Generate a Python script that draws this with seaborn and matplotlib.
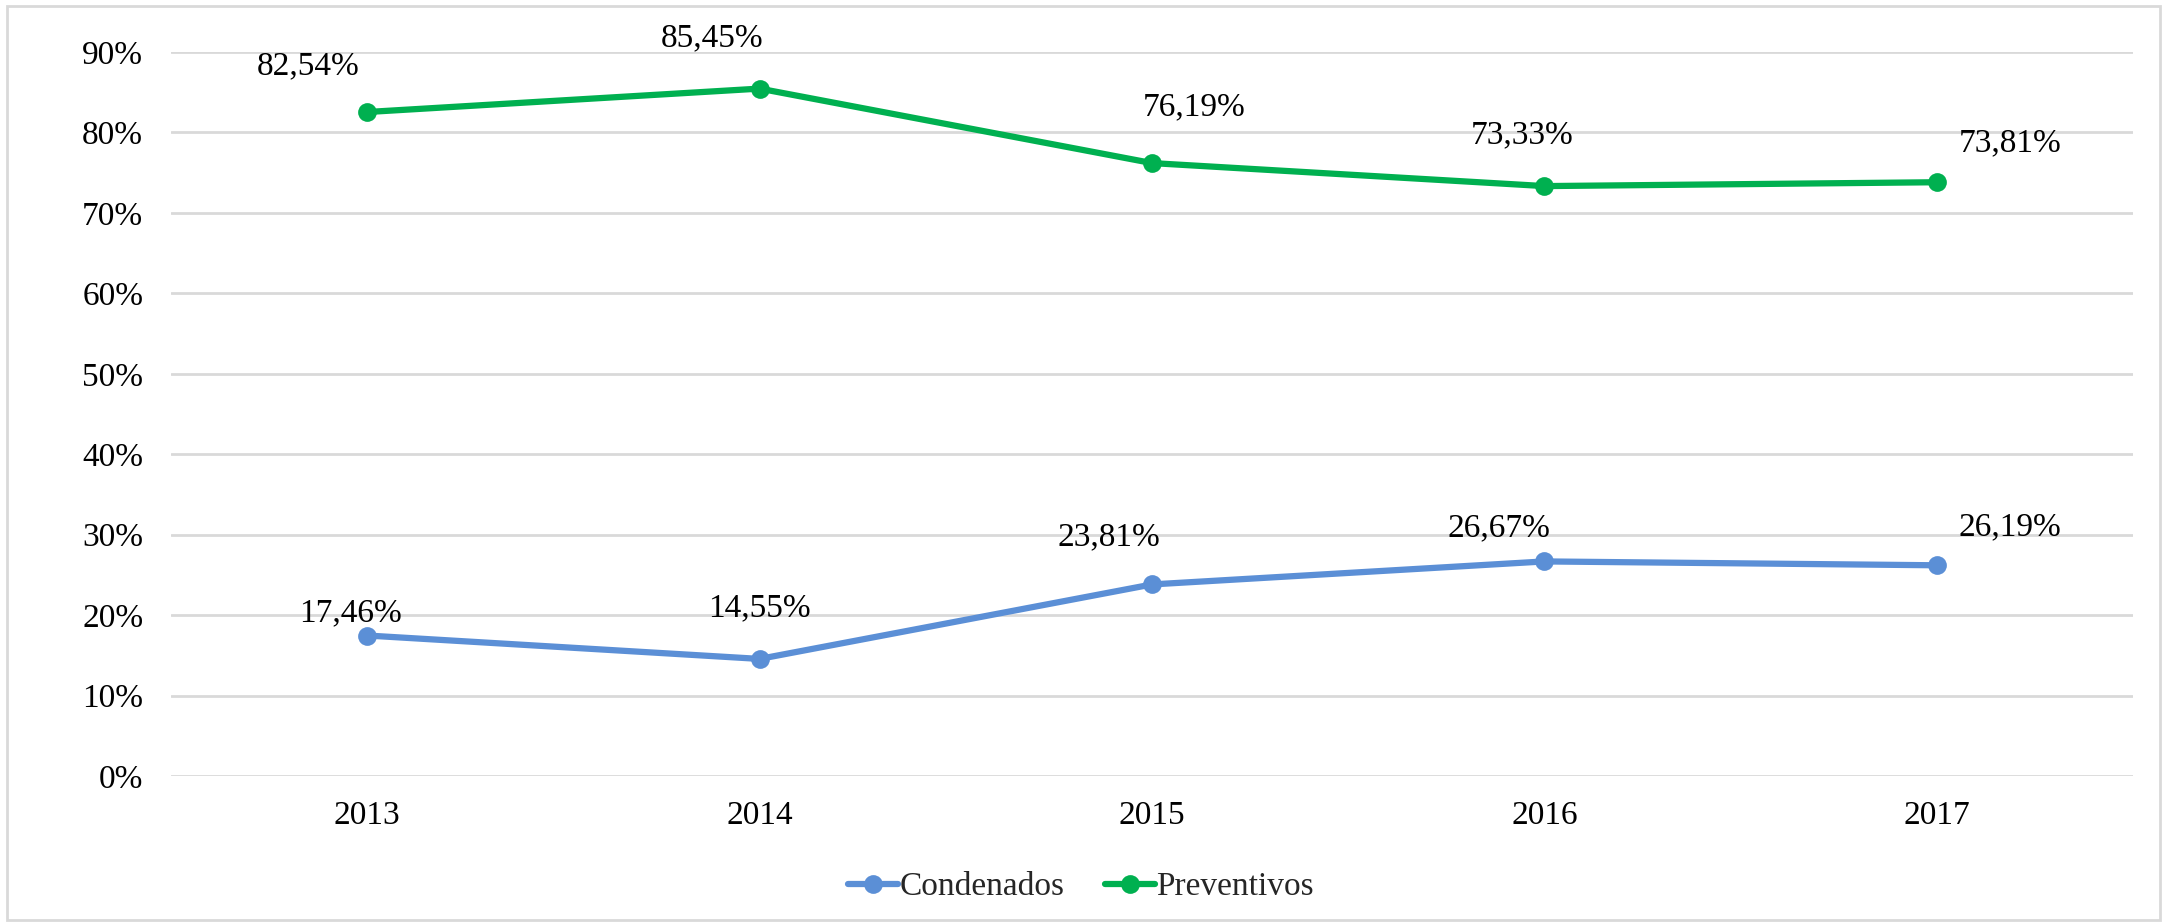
import pandas as pd
import numpy as np
import matplotlib
matplotlib.use('Agg')
import matplotlib.pyplot as plt
from matplotlib.patches import Rectangle
from matplotlib.ticker import FuncFormatter
import seaborn as sns

# Data
years = ['2013', '2014', '2015', '2016', '2017']
condenados = [17.46, 14.55, 23.81, 26.67, 26.19]
preventivos = [82.54, 85.45, 76.19, 73.33, 73.81]
series_names = ['Condenados', 'Preventivos']
colors = {'Condenados': '#5B8FD6', 'Preventivos': '#00B050'}

# label offsets (pixels, to centre of digits) relative to each point, as placed in the original
offsets = {
    'Condenados': [(-17, 25), (0, 54), (-43, 50), (-45, 36), (73, 41)],
    'Preventivos': [(-59, 49), (-48, 53), (42, 59), (-22, 54), (73, 42)],
}
FS = 24
digit_mid = 0.33 * FS * 100 / 72  # pixels from baseline to digit middle

df = pd.DataFrame({
    'year': years * 2,
    'value': condenados + preventivos,
    'serie': [series_names[0]] * len(years) + [series_names[1]] * len(years),
})

sns.set_theme(style='white')
plt.rcParams['font.family'] = ['Liberation Serif', 'DejaVu Serif']

fig = plt.figure(figsize=(21.62, 9.22), dpi=100)
ax = fig.add_axes([0.0791, 0.1584, 0.9075, 0.7852])

sns.lineplot(data=df, x='year', y='value', hue='serie', hue_order=series_names,
             palette=colors, marker='o', markersize=13.5, markeredgewidth=0,
             linewidth=4.5, ax=ax, sort=False)

for name in series_names:
    sub = df[df['serie'] == name].reset_index(drop=True)
    for i, row in sub.iterrows():
        dx, dy = offsets[name][i]
        txt = f"{row['value']:.2f}%".replace('.', ',')
        ax.annotate(txt, (i, row['value']), xytext=(dx, dy - digit_mid), textcoords='offset pixels',
                    ha='center', va='baseline', fontsize=FS, color='black')

ax.set_xlim(-0.5, 4.5)
ax.set_ylim(0, 90)
ax.set_yticks(np.arange(0, 91, 10))
ax.yaxis.set_major_formatter(FuncFormatter(lambda v, p: f"{int(v)}%"))
ax.grid(axis='y', color='#D9D9D9', linewidth=2)
ax.grid(axis='x', visible=False)
ax.set_axisbelow(True)
for s in ax.spines.values():
    s.set_visible(False)
ax.tick_params(axis='both', length=0, labelsize=FS, colors='black')
ax.tick_params(axis='y', pad=20)
ax.tick_params(axis='x', pad=18)
ax.set_xlabel('')
ax.set_ylabel('')

leg = ax.legend(loc='center', bbox_to_anchor=(0.5, 1 - 887 / 922), bbox_transform=fig.transFigure,
                ncol=2, frameon=False, fontsize=FS, handlelength=1.5, handletextpad=0.05,
                columnspacing=1.2)

fig.patches.append(Rectangle((7 / 2162, 2 / 922), 2153 / 2162, 914 / 922, transform=fig.transFigure,
                             fill=False, edgecolor='#D9D9D9', linewidth=2))

fig.savefig('out.png', dpi=100)
